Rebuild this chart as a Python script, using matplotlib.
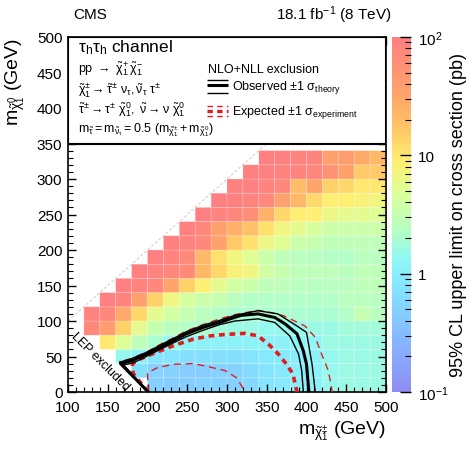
import numpy as np
import matplotlib
matplotlib.use('Agg')
import matplotlib.pyplot as plt
from matplotlib.colors import LinearSegmentedColormap, LogNorm
from matplotlib.patches import Rectangle
from matplotlib.ticker import MultipleLocator, FixedLocator, FixedFormatter, LogLocator, NullFormatter

plt.rcParams['font.family'] = ['Liberation Sans', 'DejaVu Sans']
plt.rcParams['mathtext.fontset'] = 'custom'
plt.rcParams['mathtext.rm'] = 'Liberation Sans'
plt.rcParams['mathtext.it'] = 'Liberation Sans:italic'
plt.rcParams['mathtext.bf'] = 'Liberation Sans:bold'
plt.rcParams['mathtext.default'] = 'regular'

# ---------------- data ----------------
# chargino mass bin edges (GeV) and LSP mass bin edges (GeV)
m_chargino_edges = np.arange(100, 520, 20)
m_lsp_edges = np.arange(0, 360, 20)

N = None
# log10 of 95% CL upper limit (pb); one list per LSP-mass row, columns m_chargino = 100..480
lim_y000 = [N, N, N, N, N, -0.3, -0.35, -0.35, -0.3, -0.3, -0.3, -0.25, -0.1, -0.05, 0.0, 0.05, 0.15, 0.2, 0.2, 0.2]
lim_y020 = [N, N, N, N, -0.15, -0.3, -0.3, -0.35, -0.35, -0.3, -0.3, -0.2, -0.1, -0.05, 0.0, 0.05, 0.15, 0.2, 0.2, 0.2]
lim_y040 = [N, N, N, 0.15, 0.05, -0.1, -0.1, -0.15, -0.15, -0.15, -0.15, -0.1, -0.05, -0.05, 0.0, 0.05, 0.15, 0.2, 0.2, 0.2]
lim_y060 = [N, N, 1.0, 0.7, 0.45, 0.3, 0.15, 0.1, 0.05, 0.05, 0.05, 0.05, 0.05, 0.05, 0.1, 0.1, 0.2, 0.2, 0.2, 0.2]
lim_y080 = [N, 1.9, 1.6, 1.15, 0.75, 0.5, 0.4, 0.35, 0.3, 0.25, 0.2, 0.2, 0.15, 0.15, 0.15, 0.2, 0.2, 0.25, 0.25, 0.25]
lim_y100 = [N, 1.95, 1.9, 1.45, 1.1, 0.75, 0.6, 0.5, 0.4, 0.35, 0.3, 0.3, 0.3, 0.3, 0.3, 0.3, 0.3, 0.35, 0.5, 0.4]
lim_y120 = [N, N, 2.0, 1.95, 1.55, 1.15, 0.85, 0.65, 0.55, 0.5, 0.4, 0.35, 0.35, 0.35, 0.35, 0.35, 0.35, 0.4, 0.4, 0.4]
lim_y140 = [N, N, N, 2.0, 1.95, 1.9, 1.5, 1.15, 0.95, 0.75, 0.6, 0.55, 0.45, 0.45, 0.4, 0.4, 0.4, 0.4, 0.45, 0.45]
lim_y160 = [N, N, N, N, 2.0, 1.95, 1.9, 1.85, 1.35, 1.1, 0.9, 0.85, 0.6, 0.5, 0.45, 0.45, 0.45, 0.4, 0.45, 0.45]
lim_y180 = [N, N, N, N, N, 2.0, 1.95, 1.85, 1.35, 1.05, 0.85, 0.7, 0.55, 0.45, 0.4, 0.4, 0.35, 0.35, 0.4, 0.4]
lim_y200 = [N, N, N, N, N, N, 2.0, 1.95, 1.9, 1.55, 1.2, 1.05, 0.8, 0.7, 0.55, 0.5, 0.45, 0.45, 0.45, 0.45]
lim_y220 = [N, N, N, N, N, N, N, 2.0, 1.9, 1.55, 1.4, 1.25, 1.05, 0.85, 0.75, 0.65, 0.55, 0.55, 0.55, 0.55]
lim_y240 = [N, N, N, N, N, N, N, N, 2.0, 1.95, 1.9, 1.8, 1.4, 1.1, 0.95, 0.95, 0.8, 0.75, 0.75, 0.7]
lim_y260 = [N, N, N, N, N, N, N, N, N, 2.0, 2.0, 1.95, 1.9, 1.55, 1.35, 1.1, 0.95, 0.95, 0.9, 0.85]
lim_y280 = [N, N, N, N, N, N, N, N, N, N, 2.0, 2.0, 1.95, 1.9, 1.3, 1.5, 1.15, 1.1, 1.0, 1.0]
lim_y300 = [N, N, N, N, N, N, N, N, N, N, N, 2.0, 2.0, 1.95, 1.95, 1.9, 1.75, 1.55, 1.2, 1.2]
lim_y320 = [N, N, N, N, N, N, N, N, N, N, N, N, 2.0, 2.0, 1.95, 1.95, 1.55, 1.6, 1.45, 1.35]

# exclusion contours (m_chargino, m_lsp) in GeV
obs_x = [201, 166, 180, 199, 216, 232, 249, 270, 291, 304, 318, 339, 360, 373, 388, 396, 400, 403]
obs_y = [0, 40, 44, 53.5, 63, 72, 82, 91, 98, 103, 108, 110, 105, 96, 82, 58, 39, 0]
obs_up_x = [201, 165, 180, 199, 216, 232, 249, 270, 291, 310, 339, 364, 388, 400, 407, 411]
obs_up_y = [0, 42, 47, 56, 66, 75, 85, 94, 101, 108, 114.5, 110, 93, 84, 39, 0]
obs_dn_x = [201, 170, 182, 200, 216, 232, 249, 270, 291, 310, 339, 360, 379, 390, 394, 396]
obs_dn_y = [0, 38, 41, 51, 60, 69, 78, 87, 95, 100, 103, 98, 79, 53.5, 30, 0]
exp_x = [201, 182, 181, 190, 207, 232, 258, 279, 297, 323, 339, 352, 364.5, 375, 383, 388]
exp_y = [0, 26, 40, 46, 54, 65, 74.6, 79, 81, 82.6, 79, 67.6, 53.5, 39, 25, 0]
exp_up_x = [201, 165, 180, 200, 216, 232, 249, 270, 291, 310, 339, 355, 371, 398, 411, 419, 427.5, 432.5]
exp_up_y = [0, 43, 47, 57, 67, 76, 86, 95, 103, 109, 115, 112, 107.5, 93, 77, 53.5, 30, 0]
exp_dn_x = [201, 200, 212, 232, 258, 279, 298, 312, 323]
exp_dn_y = [0, 27, 34, 39, 40, 35, 30, 20, 0]

# ---------------- figure ----------------
fig = plt.figure(figsize=(4.75, 4.52), dpi=100)
ax = fig.add_axes([68/475, 1-393/452, 318/475, 355/452])

cmap = LinearSegmentedColormap.from_list('cms_rainbow', [
    (0.00, (0.56, 0.55, 0.95)),
    (0.15, (0.52, 0.72, 1.00)),
    (0.30, (0.52, 0.90, 1.00)),
    (0.37, (0.56, 0.97, 0.96)),
    (0.46, (0.72, 1.00, 0.76)),
    (0.56, (0.86, 1.00, 0.60)),
    (0.65, (1.00, 0.94, 0.45)),
    (0.74, (1.00, 0.78, 0.40)),
    (0.84, (1.00, 0.64, 0.42)),
    (1.00, (1.00, 0.50, 0.50)),
])
norm = LogNorm(vmin=0.1, vmax=100)

rows = [lim_y000, lim_y020, lim_y040, lim_y060, lim_y080, lim_y100, lim_y120, lim_y140,
        lim_y160, lim_y180, lim_y200, lim_y220, lim_y240, lim_y260, lim_y280, lim_y300, lim_y320]
Z = np.array([[np.nan if v is None else v for v in r] for r in rows], dtype=float)
Z = np.ma.masked_invalid(10.0 ** Z)

mesh = ax.pcolor(m_chargino_edges, m_lsp_edges, Z, cmap=cmap, norm=norm,
                 edgecolors=(1, 1, 1, 0.25), linewidth=0.5, zorder=1)

# kinematic diagonal
ax.plot([100, 350], [100, 350], color='#cccccc', lw=0.7, ls=(0, (3, 2)), zorder=1.2)

# contours
red = '#dd1f1f'
ax.plot(exp_up_x, exp_up_y, color=red, lw=1.0, ls=(0, (5, 3.5)), zorder=3)
ax.plot(exp_dn_x, exp_dn_y, color=red, lw=1.0, ls=(0, (5, 3.5)), zorder=3)
ax.plot(exp_x, exp_y, color=red, lw=2.6, ls=(0, (1.6, 1.3)), zorder=3)
ax.plot(obs_up_x, obs_up_y, color='black', lw=1.0, zorder=4)
ax.plot(obs_dn_x, obs_dn_y, color='black', lw=1.0, zorder=4)
ax.plot(obs_x, obs_y, color='black', lw=2.2, zorder=4)

ax.text(140, 43, 'LEP excluded', rotation=-45, ha='center', va='center', fontsize=9,
        rotation_mode='anchor', zorder=5)

ax.set_xlim(100, 500)
ax.set_ylim(0, 500)
ax.xaxis.set_major_locator(MultipleLocator(50))
ax.xaxis.set_minor_locator(MultipleLocator(10))
ax.yaxis.set_major_locator(MultipleLocator(50))
ax.yaxis.set_minor_locator(MultipleLocator(10))
ax.tick_params(which='both', direction='in', top=True, right=True, labelsize=11)
ax.tick_params(which='major', length=6, width=1.0)
ax.tick_params(which='minor', length=3.5, width=0.8)
ax.tick_params(axis='x', pad=6)
ax.tick_params(axis='y', pad=4)
ax.set_axisbelow(False)
for s in ax.spines.values():
    s.set_linewidth(1.2)

ax.set_xlabel(r'm$_{\tilde{\chi}^{\pm}_{1}}$ (GeV)', fontsize=14, loc='right')
ax.set_ylabel(r'm$_{\tilde{\chi}^{0}_{1}}$ (GeV)', fontsize=14, loc='top')
ax.xaxis.set_label_coords(1.0, -0.075)
ax.yaxis.set_label_coords(-0.13, 1.0)

# legend box
box = Rectangle((100, 350), 400, 150, facecolor='white', edgecolor='black', lw=1.5, zorder=10)
ax.add_patch(box)
tx = 112
ax.text(tx, 486, r'$\tau_{h}\tau_{h}$ channel', fontsize=12.5, va='center', zorder=11)
ax.text(tx, 456, r'pp $\rightarrow$ $\tilde{\chi}^{+}_{1}\,\tilde{\chi}^{-}_{1}$', fontsize=9, va='center', zorder=11)
ax.text(tx, 427, r'$\tilde{\chi}^{\pm}_{1} \rightarrow \tilde{\tau}^{\pm}\ \nu_{\tau},\tilde{\nu}_{\tau}\ \tau^{\pm}$',
        fontsize=9, va='center', zorder=11)
ax.text(tx, 399, r'$\tilde{\tau}^{\pm} \rightarrow \tau^{\pm}\ \tilde{\chi}^{0}_{1},\ \tilde{\nu} \rightarrow \nu\ \tilde{\chi}^{0}_{1}$',
        fontsize=9, va='center', zorder=11)
ax.text(tx, 370, r'$m_{\tilde{\tau}} = m_{\tilde{\nu}_{\tau}} = 0.5\ (m_{\tilde{\chi}^{\pm}_{1}} + m_{\tilde{\chi}^{0}_{1}})$',
        fontsize=9, va='center', zorder=11)

ax.text(276, 455, 'NLO+NLL exclusion', fontsize=9, va='center', zorder=11)
ax.plot([275, 301], [440, 440], color='black', lw=1.0, zorder=11, solid_capstyle='butt')
ax.plot([275, 301], [432, 432], color='black', lw=2.2, zorder=11, solid_capstyle='butt')
ax.plot([275, 301], [421, 421], color='black', lw=1.0, zorder=11, solid_capstyle='butt')
ax.text(306, 430, r'Observed $\pm$1 $\sigma_{theory}$', fontsize=9, va='center', zorder=11)
ax.plot([275, 301], [403, 403], color=red, lw=1.0, ls=(0, (4, 3)), zorder=11)
ax.plot([275, 301], [396, 396], color=red, lw=2.4, ls=(0, (1.6, 1.3)), zorder=11)
ax.plot([275, 301], [389, 389], color=red, lw=1.0, ls=(0, (4, 3)), zorder=11)
ax.text(306, 395, r'Expected $\pm$1 $\sigma_{experiment}$', fontsize=9, va='center', zorder=11)

# header
fig.text(73/475, 1-15/452, 'CMS', fontsize=11, va='center', ha='left')
fig.text(392/475, 1-15/452, r'18.1 fb$^{-1}$ (8 TeV)', fontsize=11, va='center', ha='right')

# colorbar
cax = fig.add_axes([392/475, 1-393/452, 19/475, 355/452])
cb = fig.colorbar(mesh, cax=cax)
cb.outline.set_visible(False)
cax.yaxis.set_major_locator(FixedLocator([0.1, 1, 10, 100]))
cax.yaxis.set_major_formatter(FixedFormatter([r'10$^{-1}$', '1', '10', r'10$^{2}$']))
cax.yaxis.set_minor_locator(LogLocator(base=10, subs=np.arange(2, 10)))
cax.yaxis.set_minor_formatter(NullFormatter())
cax.tick_params(which='both', direction='in', right=True, left=False, labelsize=11, pad=5)
cax.tick_params(which='major', length=8, width=1.0)
cax.tick_params(which='minor', length=4, width=0.8)
cb.set_label('95% CL upper limit on cross section (pb)', fontsize=13, labelpad=1)

fig.savefig('out.png', dpi=100)
